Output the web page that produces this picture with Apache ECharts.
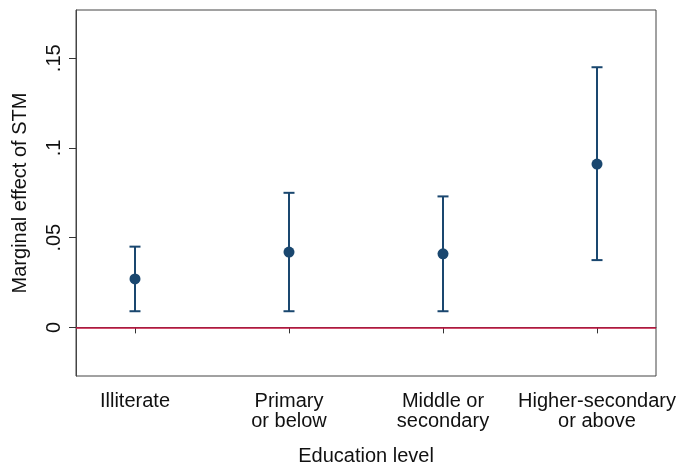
<!DOCTYPE html>
<html>
<head>
<meta charset="utf-8">
<script src="https://cdn.jsdelivr.net/npm/echarts@6/dist/echarts.min.js"></script>
<style>
  html, body { margin: 0; padding: 0; background: #fff; }
  #chart { width: 678px; height: 468px; }
</style>
</head>
<body>
<div id="chart"></div>
<script>
// Education categories (x axis) and estimated marginal effects with 95% CIs
const categories = ['Illiterate', 'Primary\nor below', 'Middle or\nsecondary', 'Higher-secondary\nor above'];
const estimate = [0.027, 0.042, 0.041, 0.091];
const lower = [0.009, 0.009, 0.009, 0.0375];
const upper = [0.045, 0.075, 0.073, 0.145];

// Y axis tick positions and their labels
const yTicks = [0, 0.05, 0.1, 0.15];
const yTickLabels = ['0', '.05', '.1', '.15'];

const navy = '#1a476f';
const refRed = '#c4123e';
const font = 'Liberation Sans, Arial, Helvetica, sans-serif';

const xPos = categories.map((_, i) => i + 1);
const pointData = xPos.map((x, i) => [x, estimate[i]]);
const ciData = xPos.map((x, i) => [x, lower[i], upper[i]]);

const chart = echarts.init(document.getElementById('chart'), null, { renderer: 'canvas' });

chart.setOption({
  animation: false,
  backgroundColor: '#fff',
  grid: {
    left: 76, right: 22, top: 10, bottom: 92,
    outerBoundsMode: 'none',
    containLabel: false,
    show: true, borderColor: '#444', borderWidth: 1, backgroundColor: '#fff'
  },
  xAxis: {
    type: 'value',
    min: 0.617, max: 4.383,
    name: 'Education level',
    nameLocation: 'middle',
    nameGap: 70,
    nameTextStyle: { fontFamily: font, fontSize: 20, color: '#111' },
    axisLine: { show: true, lineStyle: { color: '#444', width: 1 } },
    axisTick: { show: true, customValues: xPos, length: 6, lineStyle: { color: '#333' } },
    splitLine: { show: false },
    axisLabel: {
      customValues: xPos,
      formatter: v => categories[Math.round(v) - 1],
      fontFamily: font, fontSize: 20, color: '#111', lineHeight: 20, margin: 15
    }
  },
  yAxis: {
    type: 'value',
    min: -0.0271, max: 0.1769,
    name: 'Marginal effect of STM',
    nameLocation: 'middle',
    nameGap: 46,
    nameTextStyle: { fontFamily: font, fontSize: 20, color: '#111' },
    axisLine: { show: true, lineStyle: { color: '#444', width: 1 } },
    axisTick: { show: true, customValues: yTicks, length: 7, lineStyle: { color: '#333' } },
    splitLine: { show: false },
    axisLabel: {
      customValues: yTicks,
      rotate: 90,
      formatter: v => yTickLabels[yTicks.findIndex(t => Math.abs(t - v) < 1e-9)],
      fontFamily: font, fontSize: 20, color: '#111', margin: 12
    }
  },
  series: [
    {
      // confidence interval whiskers with end caps
      type: 'custom',
      data: ciData,
      z: 3,
      renderItem: function (params, api) {
        const x = api.value(0);
        const lo = api.coord([x, api.value(1)]);
        const hi = api.coord([x, api.value(2)]);
        const half = 5.5;
        const style = { stroke: navy, lineWidth: 2 };
        return {
          type: 'group',
          children: [
            { type: 'line', shape: { x1: lo[0], y1: lo[1], x2: hi[0], y2: hi[1] }, style },
            { type: 'line', shape: { x1: lo[0] - half, y1: lo[1], x2: lo[0] + half, y2: lo[1] }, style },
            { type: 'line', shape: { x1: hi[0] - half, y1: hi[1], x2: hi[0] + half, y2: hi[1] }, style }
          ]
        };
      }
    },
    {
      // point estimates
      type: 'scatter',
      data: pointData,
      symbol: 'circle',
      symbolSize: 11,
      z: 4,
      itemStyle: { color: navy, opacity: 1 },
      markLine: {
        silent: true,
        symbol: 'none',
        label: { show: false },
        lineStyle: { color: refRed, width: 1.5, type: 'solid' },
        data: [{ yAxis: 0 }]
      }
    }
  ]
});
</script>
</body>
</html>
